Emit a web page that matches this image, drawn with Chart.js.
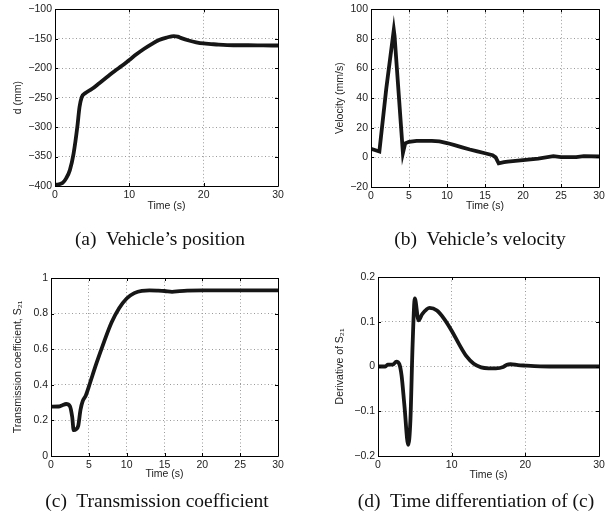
<!DOCTYPE html>
<html>
<head>
<meta charset="utf-8">
<script src="https://cdn.jsdelivr.net/npm/chart.js@4"></script>
<style>
  body { margin: 0; background: #fff; }
  #page { position: relative; width: 616px; height: 522px; }
  canvas { position: absolute; left: 0; top: 0; }
  .cap { position: absolute; width: 300px; text-align: center; white-space: pre;
         font-family: "Liberation Serif", "Times New Roman", serif; font-size: 19.5px;
         line-height: 20px; color: #111; }
</style>
</head>
<body>
<div id="page">
  <canvas id="pa" width="616" height="522"></canvas>
  <canvas id="pb" width="616" height="522"></canvas>
  <canvas id="pc" width="616" height="522"></canvas>
  <canvas id="pd" width="616" height="522"></canvas>
  <div class="cap" style="left:10px; top:229px">(a)  Vehicle’s position</div>
  <div class="cap" style="left:330px; top:229px">(b)  Vehicle’s velocity</div>
  <div class="cap" style="left:7px; top:491px">(c)  Transmission coefficient</div>
  <div class="cap" style="left:326px; top:491px">(d)  Time differentiation of (c)</div>
</div>
<script>
// (a) position, mm
var posTime = [0, 0.5, 1, 1.5, 2, 2.5, 3, 3.3, 3.6, 4, 5, 6, 7, 8, 9, 10, 11, 12, 13, 14, 15, 16, 16.5, 17, 18, 19, 20, 21, 22, 24, 26, 28, 30]
var posVal = [-398, -397, -395, -387, -373, -345, -300, -266, -249, -243, -235, -225, -215, -205, -196, -186, -176, -167, -159, -152, -148, -145.6, -146.5, -149, -153, -156, -158, -159, -160, -161, -161, -161.3, -161.5]

// (b) velocity, mm/s
var velTime = [0, 0.5, 1.1, 2, 3, 3.1, 4.2, 4.5, 5, 6, 8, 9, 10, 11, 12, 13, 14, 15, 16, 16.4, 16.8, 17.5, 18, 20, 22, 24, 25, 27, 28, 30]
var velVal = [5.8, 5, 4, 46, 86, 82, 3, 9.5, 10.5, 11.2, 11.2, 10.8, 9.7, 8.3, 6.8, 5.3, 4, 2.8, 1.5, 0, -4, -3.2, -2.8, -1.8, -0.8, 0.8, 0.2, 0.2, 0.9, 0.6]

// (c) transmission coefficient S21
var s21Time = [0, 1, 1.5, 2, 2.5, 2.8, 3, 3.3, 3.6, 3.9, 4.2, 4.6, 5, 6, 7, 8, 9, 10, 11, 12, 13, 14, 15, 16, 17, 18, 20, 25, 30]
var s21Val = [0.277, 0.278, 0.285, 0.292, 0.28, 0.22, 0.145, 0.15, 0.17, 0.26, 0.31, 0.34, 0.39, 0.52, 0.64, 0.75, 0.83, 0.885, 0.915, 0.928, 0.93, 0.929, 0.927, 0.922, 0.926, 0.929, 0.931, 0.931, 0.931]

// (d) derivative of S21
var derTime = [0, 1, 1.3, 2, 2.5, 2.9, 3.2, 3.6, 4.1, 4.4, 4.7, 5, 5.5, 6, 7, 8, 9, 10, 11, 12, 13, 14, 15, 16, 17, 17.5, 18, 19, 20, 22, 25, 30]
var derVal = [0, 0, 0.004, 0.004, 0.011, 0.005, -0.02, -0.09, -0.175, -0.12, 0.05, 0.152, 0.103, 0.117, 0.131, 0.125, 0.106, 0.08, 0.05, 0.023, 0.006, -0.002, -0.004, -0.004, -0.001, 0.004, 0.005, 0.003, 0.002, 0.0005, 0, 0]

var tickFont = { family: 'Liberation Sans, Arial, sans-serif', size: 10.5 }

// plain matlab-like tick text: 1 not 1.0, real minus sign
function fmt(v) {
	return String(Math.round(v * 1000) / 1000).replace('-', '\u2212')
}

// matlab style box with inward ticks
var frame = {
	id: 'frame',
	afterDatasetsDraw: function(chart) {
		var ctx = chart.ctx, a = chart.chartArea
		var sx = chart.scales.x, sy = chart.scales.y
		ctx.save()
		ctx.strokeStyle = '#000'
		ctx.lineWidth = 1
		ctx.beginPath()
		ctx.rect(Math.round(a.left) + 0.5, Math.round(a.top) + 0.5, Math.round(a.right - a.left), Math.round(a.bottom - a.top))
		sx.ticks.forEach(function(t, i) {
			var px = Math.round(sx.getPixelForTick(i)) + 0.5
			ctx.moveTo(px, a.bottom); ctx.lineTo(px, a.bottom - 3)
			ctx.moveTo(px, a.top); ctx.lineTo(px, a.top + 3)
		})
		sy.ticks.forEach(function(t, i) {
			var py = Math.round(sy.getPixelForTick(i)) + 0.5
			ctx.moveTo(a.left, py); ctx.lineTo(a.left + 3, py)
			ctx.moveTo(a.right, py); ctx.lineTo(a.right - 3, py)
		})
		ctx.stroke()
		ctx.restore()
	}
}

function makePanel(id, times, values, p) {
	var pts = times.map(function(t, i) { return { x: t, y: values[i] } })
	return new Chart(document.getElementById(id).getContext('2d'), {
		type: 'line',
		data: {
			datasets: [{
				data: pts,
				borderColor: '#161616',
				borderWidth: 3.8,
				pointRadius: 0,
				tension: p.smooth ? 0.4 : 0,
				cubicInterpolationMode: p.smooth ? 'monotone' : 'default',
				fill: false
			}]
		},
		options: {
			responsive: false,
			animation: false,
			devicePixelRatio: 1,
			events: [],
			layout: { padding: { left: p.padL, top: p.padT, right: p.padR, bottom: p.padB } },
			plugins: { legend: { display: false }, tooltip: { enabled: false } },
			scales: {
				x: {
					type: 'linear', min: 0, max: 30,
					afterFit: function(s) { s.height = p.xH },
					ticks: { stepSize: p.xStep, autoSkip: false, maxRotation: 0, padding: 3, font: tickFont, color: '#222', callback: fmt },
					grid: { color: '#9a9a9a', lineWidth: 1, drawTicks: false },
					border: { display: false, dash: [1, 2.5] },
					title: { display: true, text: 'Time (s)', font: tickFont, color: '#222', padding: 0 }
				},
				y: {
					type: 'linear', min: p.yMin, max: p.yMax,
					afterFit: function(s) { s.width = p.yW },
					ticks: { stepSize: p.yStep, autoSkip: false, padding: 3, font: tickFont, color: '#222', callback: fmt },
					grid: { color: '#9a9a9a', lineWidth: 1, drawTicks: false },
					border: { display: false, dash: [1, 2.5] },
					title: { display: true, text: p.yTitle, font: tickFont, color: '#222', padding: 0 }
				}
			}
		},
		plugins: [frame]
	})
}

makePanel('pa', posTime, posVal, { smooth: true, xStep: 10, yMin: -400, yMax: -100, yStep: 50, yTitle: 'd (mm)',
	padL: 11.7, yW: 43.3, padT: 8, padR: 338, xH: 26.3, padB: 309.7 })
makePanel('pb', velTime, velVal, { smooth: false, xStep: 5, yMin: -20, yMax: 100, yStep: 20, yTitle: 'Velocity (mm/s)',
	padL: 333.7, yW: 37.3, padT: 8, padR: 17, xH: 25.3, padB: 309.7 })
makePanel('pc', s21Time, s21Val, { smooth: true, xStep: 5, yMin: 0, yMax: 1, yStep: 0.2, yTitle: 'Transmission coefficient, S₂₁',
	padL: 11.7, yW: 39.3, padT: 278, padR: 338, xH: 24.3, padB: 41.7 })
makePanel('pd', derTime, derVal, { smooth: true, xStep: 10, yMin: -0.2, yMax: 0.2, yStep: 0.1, yTitle: 'Derivative of S₂₁',
	padL: 333.7, yW: 44.3, padT: 277, padR: 17, xH: 25.3, padB: 40.7 })
</script>
</body>
</html>
